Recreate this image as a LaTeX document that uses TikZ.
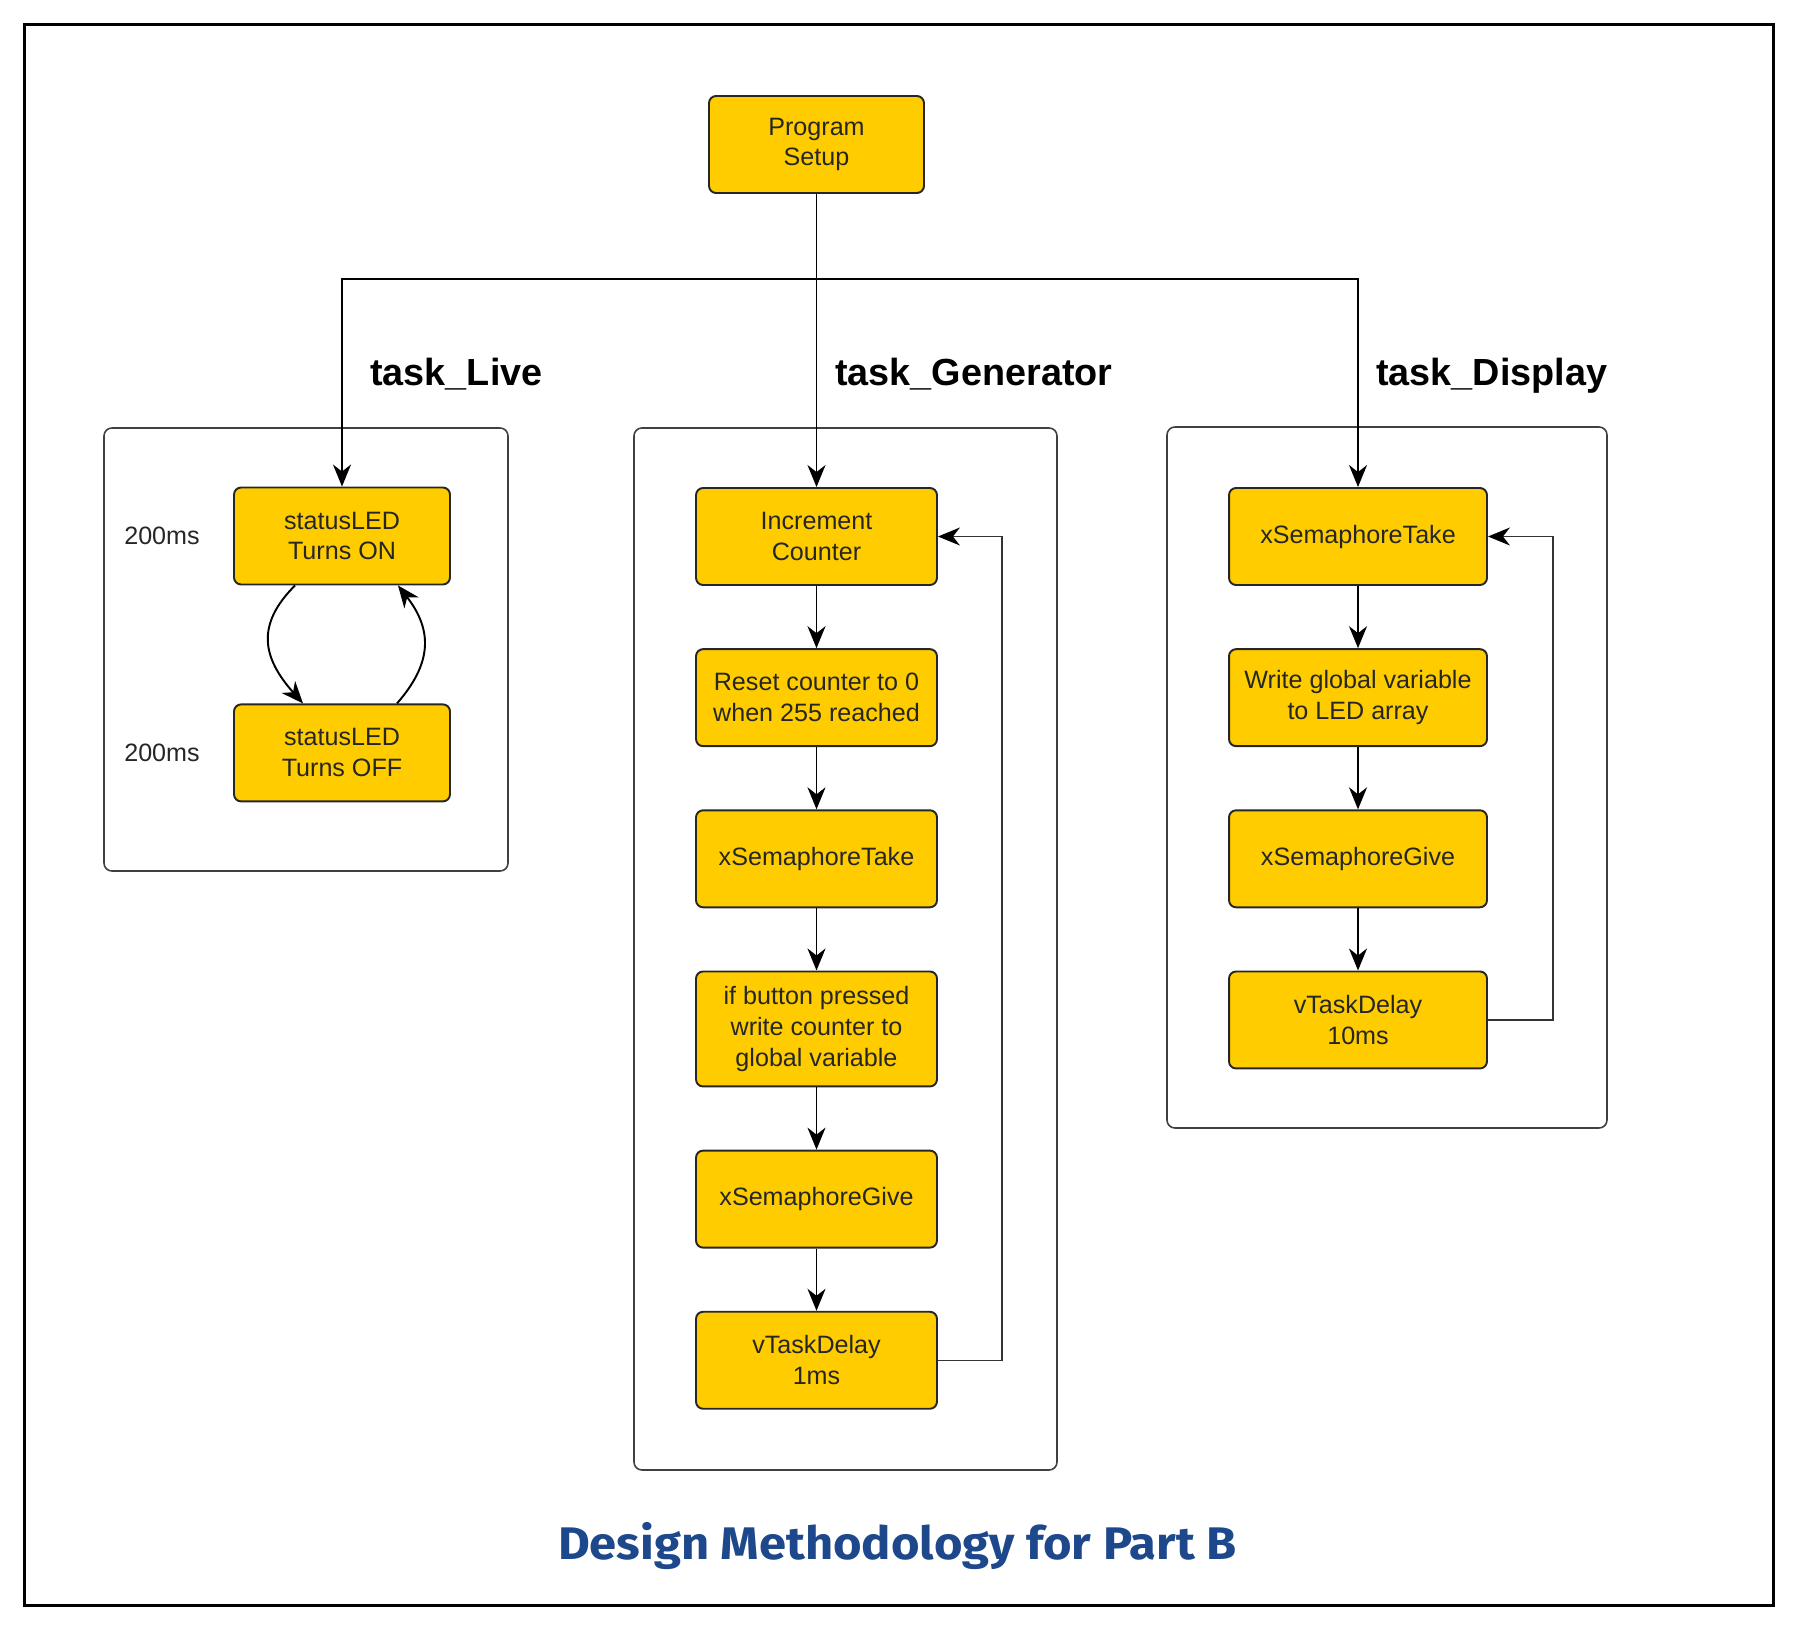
\documentclass[tikz,border=0pt]{standalone}
\usepackage{fontspec}
\setmainfont{Liberation Sans}
\newfontfamily\titlefont[FakeStretch=1.07]{Fira Sans}
\usepackage{tikz}
\usetikzlibrary{calc,arrows.meta,positioning}
\definecolor{myyellow}{RGB}{255,204,0}
\definecolor{mynavy}{RGB}{30,72,140}

\begin{document}
\begin{tikzpicture}[
  x=0.02cm,
  y=-0.02cm,
  node distance=1.245cm,
  mybox/.style={
    draw=black!85,
    line width=1.1pt,
    rounded corners=4pt,
    fill=myyellow,
    minimum width=#1,
    minimum height=1.94cm,
    inner sep=0pt,
    align=center,
    text=black!85,
    font=\fontsize{14.3pt}{17.6pt}\selectfont
    },
  mynote/.style={
    inner sep=0pt,
    text=black!85,
    font=\fontsize{14.3pt}{17.6pt}\selectfont
    },
  mytask/.style={
    anchor=base west,
    inner sep=0pt,
    font=\bfseries\fontsize{21.5pt}{26pt}\selectfont
    },
  mycontainer/.style={
    draw=black!75,
    line width=0.9pt,
    rounded corners=4.5pt
    },
  myarrow/.style={
    draw=black,
    line width=1.1pt,
    -{Stealth[length=0.44cm,width=0.36cm,inset=0.14cm]}
    },
  myloop/.style={
    draw=black!80,
    line width=0.8pt,
    -{Stealth[length=0.44cm,width=0.36cm,inset=0.14cm,color=black]}
    }
]
\useasboundingbox (0,0) rectangle (1798,1629);
\draw[line width=1.7pt] (24.5,24.5) rectangle (1773.5,1605);

\draw[mycontainer] (104,428) rectangle (508,871);
\draw[mycontainer] (634,428) rectangle (1057,1470);
\draw[mycontainer] (1167,427) rectangle (1607,1128);

\node[mybox=4.3cm] at (816.5,144.5) (setup) {Program\\Setup};

\node[mybox=4.32cm] at (342,536) (on) {statusLED\\Turns ON};
\node[mybox=4.32cm, below=2.36cm of on] (off) {statusLED\\Turns OFF};
\node[mynote, left=0.66cm of on] (ton) {200ms};
\node[mynote, left=0.66cm of off] (toff) {200ms};

\node[mybox=4.82cm] at (816.5,536.5) (inc) {Increment\\Counter};
\node[mybox=4.82cm, below=of inc] (reset) {Reset counter to 0\\when 255 reached};
\node[mybox=4.82cm, below=of reset] (take1) {xSemaphoreTake};
\node[mybox=4.82cm, minimum height=2.3cm, below=of take1] (ifpress) {if button pressed\\write counter to\\global variable};
\node[mybox=4.82cm, below=of ifpress] (give1) {xSemaphoreGive};
\node[mybox=4.82cm, below=of give1] (delay1) {vTaskDelay\\1ms};

\node[mybox=5.16cm] at (1358,536.5) (take2) {xSemaphoreTake};
\node[mybox=5.16cm, below=of take2] (write2) {Write global variable\\to LED array};
\node[mybox=5.16cm, below=of write2] (give2) {xSemaphoreGive};
\node[mybox=5.16cm, below=of give2] (delay2) {vTaskDelay\\10ms};

\node[mytask] at (370,385) (live) {task\_Live};
\node[mytask] at (835,385) (gen) {task\_Generator};
\node[mytask] at (1376,385) (disp) {task\_Display};

\coordinate (split) at (816.5,279);
\coordinate (loop1) at (1002,0);
\coordinate (loop2) at (1553,0);

\draw[myarrow] (setup.south) -- (inc.north);
\draw[myarrow] (split) -| (on.north);
\draw[myarrow] (split) -| (take2.north);

\foreach \From/\To in {inc/reset, reset/take1, take1/ifpress, ifpress/give1, give1/delay1, take2/write2, write2/give2, give2/delay2}
  \draw[myarrow] (\From) -- (\To);

\draw[myloop] (delay1.east) -- (delay1.east -| loop1) |- (inc.east);
\draw[myloop] (delay2.east) -- (delay2.east -| loop2) |- (take2.east);

\draw[myarrow] ([xshift=-0.94cm]on.south) .. controls +(-40,40) and +(-40,-45) .. ([xshift=-0.78cm]off.north);
\draw[myarrow] ([xshift=1.1cm]off.north) .. controls +(35,-40) and +(35,45) .. ([xshift=1.12cm]on.south);

\node[text=mynavy, font=\titlefont\bfseries\fontsize{26pt}{30pt}\selectfont] at (897.5,1546) (title) {Design Methodology for Part B};
\end{tikzpicture}
\end{document}
